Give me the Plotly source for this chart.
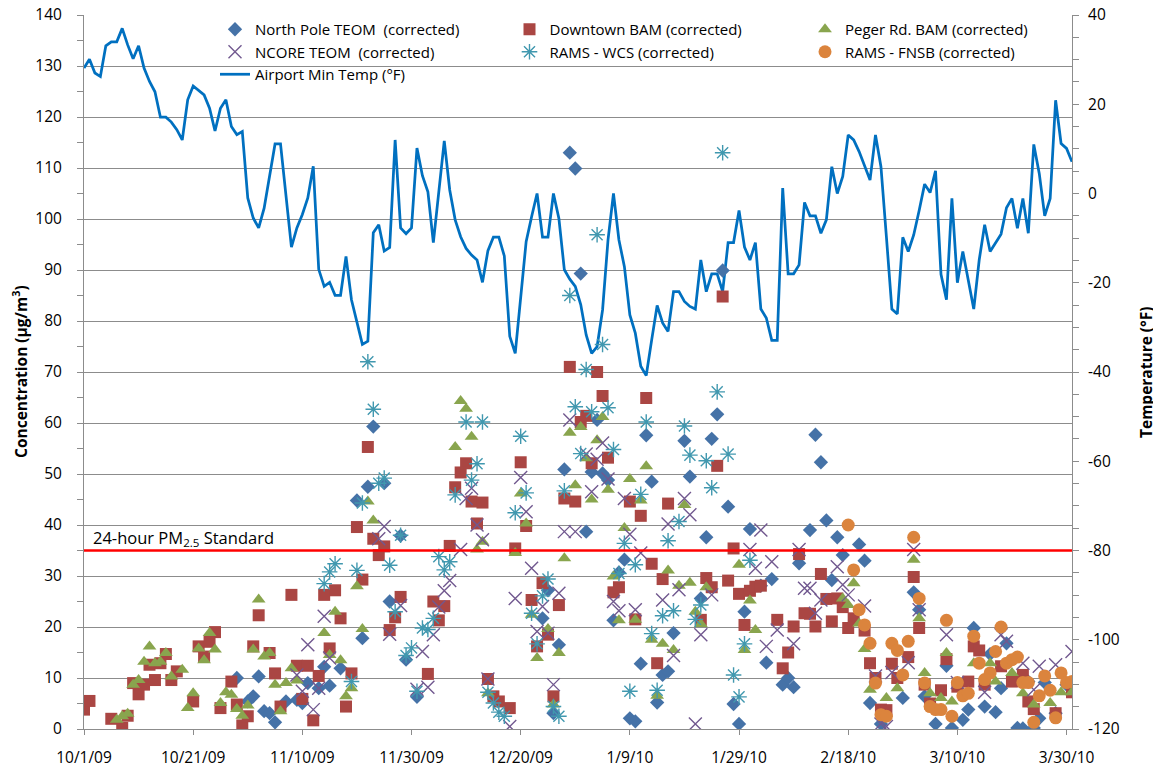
import pandas as pd
import plotly.graph_objects as go

START = "2009-10-01"

# Airport minimum temperature (deg F), one value per day from 10/1/09
TEMP_F = [
    28.1, 30.1, 27.0, 26.2, 33.1, 34.0, 34.0, 37.0, 33.3, 30.2,
    33.1, 28.1, 25.1, 22.8, 17.1, 17.1, 16.0, 14.3, 12.0, 21.0,
    24.1, 23.0, 22.1, 19.1, 14.0, 19.1, 21.0, 15.0, 13.2, 13.9,
    -1.0, -5.5, -7.7, -3.3, 3.5, 11.1, 11.1, -0.3, -12.0, -7.7,
    -4.7, -1.0, 6.1, -17.0, -20.8, -19.9, -22.8, -22.8, -14.1, -23.8,
    -28.6, -33.8, -33.1, -8.8, -7.0, -12.9, -12.1, 12.0, -7.7, -9.0,
    -7.7, 10.2, 4.0, 0.4, -11.0, 0.4, 11.8, 0.8, -5.9, -9.7,
    -12.3, -13.8, -14.9, -19.9, -12.8, -9.8, -9.8, -14.0, -32.0, -35.8,
    -23.1, -10.8, -5.2, 0.0, -9.8, -9.8, 0.0, -5.6, -17.1, -19.2,
    -20.8, -24.9, -31.7, -35.8, -34.3, -26.1, -10.4, 0.0, -10.4, -16.4,
    -27.2, -31.3, -38.7, -40.8, -32.8, -25.1, -29.0, -30.9, -22.0, -22.0,
    -24.2, -25.3, -25.9, -14.9, -22.0, -18.0, -18.0, -22.0, -11.0, -11.0,
    -3.8, -12.0, -14.9, -11.0, -25.9, -27.9, -32.9, -32.9, 1.2, -18.0,
    -18.0, -16.0, -2.0, -5.0, -5.0, -8.9, -5.9, 6.0, 0.0, 3.8,
    13.1, 12.0, 9.4, 6.4, 3.0, 13.1, 6.0, -9.7, -25.9, -27.0,
    -9.8, -13.0, -9.3, -3.8, 2.1, 0.2, 5.1, -18.1, -23.8, -1.1,
    -20.0, -13.0, -19.3, -25.9, -14.9, -7.0, -13.0, -11.1, -9.1, -3.2,
    -1.1, -7.8, -1.1, -8.9, 11.0, 4.5, -5.0, -1.1, 20.9, 11.2,
    10.1, 7.1,
]

# PM2.5 concentrations (ug/m3); *_DAY = days since 10/1/09
NP_DAY = [28, 30, 31, 32, 33, 34, 35, 37, 39, 40, 41, 43, 44, 45, 47, 50, 51, 52, 53, 55,
          56, 58, 59, 61, 84, 85, 86, 87, 88, 89, 90, 91, 92, 93, 94, 95, 96, 97, 98, 99,
          100, 101, 102, 103, 104, 105, 106, 107, 108, 110, 111, 113, 114, 115, 116, 117, 118, 119, 120, 121,
          122, 124, 125, 126, 128, 129, 130, 131, 133, 134, 135, 136, 137, 138, 139, 142, 143, 144, 146, 150,
          152, 153, 154, 156, 158, 159, 161, 162, 163, 165, 166, 167, 168, 169, 171, 172, 173, 174, 175, 176,
          178, 180]
NP_VAL = [10.0, 5.4, 6.4, 10.3, 3.5, 3.1, 1.3, 5.4, 5.7, 5.1, 9.0, 8.0, 12.2, 8.5, 11.9, 44.8, 17.8, 47.5, 59.3, 48.2,
          25.0, 37.9, 13.6, 6.3, 21.7, 27.2, 3.1, 16.5, 50.9, 113.0, 109.9, 89.3, 38.7, 50.4, 60.6, 50.1, 48.8, 21.3, 30.7, 33.2,
          2.1, 1.5, 12.8, 57.6, 48.5, 5.2, 10.6, 11.3, 18.8, 56.5, 49.5, 25.6, 37.6, 56.9, 61.7, 89.9, 43.6, 4.9, 1.0, 23.0,
          39.2, 28.1, 13.0, 29.4, 8.7, 10.0, 8.2, 32.5, 39.0, 57.7, 52.3, 40.9, 29.2, 37.6, 34.1, 36.2, 33.0, 5.1, 1.0, 6.1,
          26.8, 23.4, 6.4, 1.0, 12.4, 0.2, 1.8, 3.8, 19.8, 4.4, 14.7, 3.3, 8.0, 16.8, 0.2, 0.1, 9.3, 0.2, 2.1, 9.1,
          3.1, 8.7]

DT_DAY = [0, 1, 5, 7, 8, 9, 10, 11, 12, 13, 14, 15, 16, 17, 20, 21, 22, 23, 24, 25,
          27, 28, 29, 30, 31, 32, 34, 35, 36, 38, 39, 40, 41, 42, 43, 44, 45, 46, 47, 48,
          49, 50, 51, 52, 53, 54, 55, 56, 57, 58, 63, 64, 65, 66, 67, 68, 69, 70, 71, 72,
          73, 74, 75, 76, 78, 79, 80, 81, 82, 83, 84, 85, 86, 87, 88, 89, 90, 91, 92, 93,
          94, 95, 96, 97, 98, 100, 101, 102, 103, 104, 105, 106, 107, 113, 114, 115, 116, 117, 118, 119,
          120, 121, 122, 123, 124, 127, 128, 129, 130, 131, 132, 133, 134, 135, 136, 137, 138, 139, 140, 141,
          143, 144, 145, 146, 147, 148, 149, 151, 152, 153, 154, 155, 157, 158, 160, 162, 163, 164, 165, 168,
          170, 172, 173, 174, 178, 181]
DT_VAL = [3.8, 5.5, 2.0, 0.2, 2.6, 9.0, 6.8, 8.7, 12.6, 9.6, 12.9, 14.7, 9.6, 11.3, 5.4, 16.2, 14.2, 17.1, 19.0, 4.1,
          9.3, 4.8, 0.7, 2.5, 16.2, 22.3, 14.9, 10.9, 4.4, 26.3, 12.4, 5.9, 12.4, 1.7, 10.4, 26.3, 15.8, 27.2, 21.7, 4.4,
          10.9, 39.6, 29.3, 55.3, 37.3, 34.1, 35.8, 19.4, 21.9, 25.9, 10.8, 25.0, 21.3, 24.1, 35.9, 47.4, 50.3, 52.1, 44.6, 40.3,
          44.4, 9.8, 6.4, 5.4, 4.1, 35.4, 52.3, 39.8, 25.3, 16.2, 28.6, 18.5, 6.4, 24.3, 45.2, 71.0, 44.6, 60.2, 61.4, 52.1,
          70.0, 65.3, 53.2, 26.8, 27.8, 44.6, 21.5, 41.8, 64.9, 32.4, 12.9, 29.4, 44.2, 21.4, 29.6, 27.8, 51.6, 84.8, 29.1, 35.4,
          26.5, 20.4, 27.1, 27.9, 28.1, 21.4, 11.9, 15.0, 20.1, 34.3, 22.7, 22.6, 20.1, 30.4, 25.5, 21.1, 25.6, 23.9, 19.8, 21.7,
          19.3, 12.9, 10.0, 3.8, 3.7, 12.8, 10.0, 14.1, 29.8, 19.8, 8.7, 5.0, 7.6, 13.7, 8.3, 9.3, 16.2, 15.4, 8.7, 12.3,
          9.3, 10.6, 5.4, 3.9, 3.1, 7.2]

PG_DAY = [6, 7, 8, 9, 10, 11, 12, 13, 14, 15, 16, 18, 19, 20, 21, 22, 23, 24, 25, 26,
          27, 28, 29, 30, 31, 32, 33, 34, 35, 36, 37, 38, 39, 44, 45, 46, 47, 48, 49, 50,
          51, 52, 53, 68, 69, 70, 71, 72, 73, 74, 79, 80, 81, 82, 83, 85, 86, 87, 88, 89,
          90, 91, 92, 93, 94, 95, 96, 97, 98, 99, 100, 101, 102, 103, 104, 105, 106, 107, 108, 109,
          110, 111, 112, 113, 114, 120, 121, 122, 123, 139, 140, 141, 142, 143, 144, 147, 149, 152, 153, 154,
          155, 157, 158, 159, 163, 166, 167, 170, 172, 174, 177, 179, 181]
PG_VAL = [1.8, 2.5, 3.0, 8.7, 9.6, 13.2, 16.2, 12.9, 13.2, 14.9, 10.3, 11.6, 4.1, 7.0, 15.8, 13.5, 18.8, 15.6, 5.1, 7.2,
          6.7, 3.9, 2.6, 4.6, 15.6, 25.4, 14.2, 14.9, 8.7, 3.5, 9.0, 11.9, 9.5, 18.8, 14.5, 23.0, 13.5, 6.4, 8.0, 28.0,
          19.6, 44.6, 40.9, 55.3, 64.3, 62.8, 57.3, 35.2, 36.7, 7.0, 34.5, 46.2, 40.3, 22.4, 13.9, 19.6, 4.8, 14.9, 33.5, 58.1,
          47.8, 59.2, 53.1, 45.0, 56.6, 61.2, 46.9, 29.9, 21.3, 39.4, 49.0, 21.4, 44.8, 51.5, 17.5, 6.5, 16.7, 31.1, 15.5, 28.1,
          43.9, 28.7, 23.0, 20.6, 27.8, 32.2, 15.5, 25.2, 19.4, 25.6, 24.3, 28.6, 20.7, 15.7, 7.7, 6.1, 8.0, 33.2, 21.7, 11.0,
          7.0, 6.1, 14.9, 5.4, 12.9, 12.9, 9.3, 11.0, 7.0, 4.8, 5.1, 7.2, 7.2]

NC_DAY = [39, 40, 41, 42, 43, 44, 45, 54, 55, 56, 58, 61, 62, 63, 64, 65, 66, 67, 69, 70,
          71, 72, 73, 74, 78, 79, 80, 81, 82, 83, 84, 85, 86, 87, 88, 89, 90, 92, 93, 94,
          95, 96, 97, 98, 99, 100, 101, 102, 106, 107, 108, 109, 110, 111, 112, 113, 115, 122, 123, 124,
          125, 126, 127, 130, 131, 132, 133, 134, 135, 138, 139, 140, 143, 145, 146, 147, 148, 151, 152, 153,
          158, 160, 165, 168, 169, 172, 174, 175, 178, 181]
NC_VAL = [10.6, 7.4, 16.5, 3.8, 8.0, 22.1, 13.9, 37.3, 39.7, 18.6, 24.2, 7.8, 15.2, 8.2, 18.5, 23.9, 27.1, 29.1, 35.2, 45.2,
          47.2, 40.0, 37.1, 9.8, 0.5, 25.6, 49.3, 42.6, 31.5, 19.1, 24.0, 18.8, 8.7, 26.6, 38.7, 60.6, 38.7, 53.9, 46.5, 52.9,
          56.1, 49.0, 25.0, 23.2, 45.2, 38.2, 23.4, 34.5, 25.3, 40.2, 14.4, 27.3, 45.2, 42.0, 1.0, 18.5, 26.3, 35.2, 31.5, 39.0,
          16.2, 32.8, 19.4, 16.7, 35.2, 27.6, 27.6, 22.7, 25.3, 31.8, 28.3, 26.3, 24.1, 10.4, 1.0, 0.5, 11.1, 13.0, 35.2, 23.4,
          18.5, 9.1, 7.2, 18.5, 17.2, 12.9, 7.7, 12.3, 12.6, 15.2]

WCS_DAY = [44, 45, 46, 49, 50, 51, 52, 53, 54, 55, 56, 57, 58, 59, 60, 61, 62, 63, 64, 65,
           66, 67, 68, 70, 71, 72, 73, 74, 75, 76, 77, 79, 80, 81, 82, 83, 84, 85, 86, 87,
           88, 89, 90, 91, 92, 93, 94, 95, 96, 97, 98, 99, 100, 101, 102, 103, 104, 105, 106, 107,
           108, 109, 110, 111, 112, 113, 114, 115, 116, 117, 118, 119, 120, 121, 122]
WCS_VAL = [28.5, 30.8, 32.4, 9.3, 31.1, 44.3, 72.0, 62.7, 48.2, 49.2, 32.1, 23.0, 38.0, 14.4, 15.9, 7.4, 19.8, 19.5, 21.7, 33.8,
           31.2, 32.8, 45.9, 60.2, 48.8, 52.0, 60.2, 7.2, 5.1, 3.3, 2.5, 42.4, 57.4, 46.3, 22.7, 16.7, 26.1, 29.4, 4.4, 2.5,
           46.7, 85.0, 63.2, 54.0, 70.5, 62.2, 96.9, 75.4, 63.0, 54.8, 30.5, 36.4, 7.4, 32.2, 46.0, 60.2, 18.7, 7.6, 22.2, 36.9,
           23.2, 40.7, 59.4, 53.7, 21.5, 24.3, 52.6, 47.3, 66.1, 113.0, 53.9, 10.6, 6.3, 16.7, 33.1]

FN_DAY = [140, 141, 142, 143, 144, 145, 146, 147, 148, 149, 150, 151, 152, 153, 154, 155, 156, 157, 158, 159,
          160, 161, 162, 163, 164, 165, 166, 167, 168, 169, 170, 171, 172, 173, 174, 175, 176, 177, 178, 179,
          180, 181]
FN_VAL = [40.0, 31.2, 23.4, 20.4, 16.8, 9.0, 2.8, 2.5, 16.8, 15.4, 10.6, 17.2, 37.6, 25.6, 9.0, 4.4, 3.8, 3.8, 21.3, 2.5,
          9.1, 6.5, 7.0, 18.2, 12.9, 9.7, 11.0, 15.2, 20.0, 12.9, 13.6, 14.1, 9.1, 9.1, 1.3, 6.5, 10.4, 7.6, 2.2, 11.0,
          9.1, 9.3]

STANDARD = 35
X_TICK_LABELS = ["10/1/09", "10/21/09", "11/10/09", "11/30/09", "12/20/09",
                 "1/9/10", "1/29/10", "2/18/10", "3/10/10", "3/30/10"]
TEMP_TICKS = [40, 20, 0, -20, -40, -60, -80, -100, -120]
CONC_TICKS = list(range(0, 141, 10))


def to_dates(days):
    return pd.Timestamp(START) + pd.to_timedelta(days, unit="D")


FONT = "Open Sans"
GRID = "#8c8c8c"
# the page body adds an 8px margin (top/left), so the figure is sized to end at the window edge
FIG_W, FIG_H = 1153, 759

fig = go.Figure()

# temperature line (right axis = 'y')
fig.add_trace(go.Scatter(
    x=to_dates(list(range(len(TEMP_F)))), y=TEMP_F, yaxis="y", mode="lines",
    name="Airport Min Temp (°F)", line=dict(color="#0070C0", width=2.75),
    legend="legend", legendrank=3, hoverinfo="skip"))

marker_series = [
    ("North Pole TEOM\u00a0 (corrected)", NP_DAY, NP_VAL, "diamond", "#4572A7", 11, "legend", 1),
    ("Downtown BAM (corrected)", DT_DAY, DT_VAL, "square", "#AA4643", 12, "legend2", 1),
    ("Peger Rd. BAM (corrected)", PG_DAY, PG_VAL, "triangle-up", "#89A54E", 12, "legend3", 1),
    ("NCORE TEOM\u00a0 (corrected)", NC_DAY, NC_VAL, "x-thin-open", "#71588F", 13, "legend", 2),
    ("RAMS - WCS (corrected)", WCS_DAY, WCS_VAL, "asterisk-open", "#4198AF", 13, "legend2", 2),
    ("RAMS - FNSB (corrected)", FN_DAY, FN_VAL, "circle", "#DB843D", 13, "legend3", 2),
]
for name, days, vals, sym, col, size, leg, rank in marker_series:
    open_sym = sym.endswith("open")
    fig.add_trace(go.Scatter(
        x=to_dates(days), y=vals, yaxis="y2", mode="markers", name=name,
        marker=dict(symbol=sym, color=col, size=size,
                    line=dict(color=col, width=1.4 if open_sym else 0)),
        legend=leg, legendrank=rank))

fig.add_shape(type="line", xref="paper", x0=0, x1=1, yref="y2", y0=STANDARD, y1=STANDARD,
              line=dict(color="#FF0000", width=2.5), layer="above")
fig.add_annotation(xref="paper", x=0.0, xanchor="left", yref="y2", y=STANDARD,
                   yanchor="middle", yshift=13, xshift=7, showarrow=False,
                   text="24-hour PM<sub>2.5</sub> Standard",
                   font=dict(family=FONT, size=16.5, color="#000000"))

# axis titles
fig.add_annotation(xref="paper", yref="paper", x=(12 - 76) / 988, y=0.5, textangle=-90,
                   xanchor="center", yanchor="middle", showarrow=False,
                   text="<b>Concentration (µg/m<sup>3</sup>)</b>",
                   font=dict(family=FONT, size=15.5, color="#000000"))
fig.add_annotation(xref="paper", yref="paper", x=(1138 - 76) / 988, y=0.5, textangle=-90,
                   xanchor="center", yanchor="middle", showarrow=False,
                   text="<b>Temperature (°F)</b>",
                   font=dict(family=FONT, size=15.5, color="#000000"))

tick_dates = to_dates([20 * i for i in range(len(X_TICK_LABELS))])

leg_common = dict(font=dict(family=FONT, size=15, color="#000000"), bgcolor="rgba(0,0,0,0)",
                  orientation="v", yanchor="top", xanchor="left",
                  xref="container", yref="container", y=1 - 5 / FIG_H,
                  itemwidth=30, tracegroupgap=0)

fig.update_layout(
    width=FIG_W, height=FIG_H,
    margin=dict(l=76, r=89, t=7, b=38, autoexpand=False),
    paper_bgcolor="white", plot_bgcolor="white",
    font=dict(family=FONT, size=15, color="#000000"),
    xaxis=dict(type="date", range=[to_dates(0), to_dates(181)], automargin=False,
               tickvals=tick_dates, ticktext=X_TICK_LABELS, ticklabeloverflow="allow",
               showgrid=False, zeroline=False, showline=True, linecolor=GRID, linewidth=1,
               ticks="outside", ticklen=5, tickcolor=GRID, ticklabelstandoff=9,
               tickfont=dict(family=FONT, size=15.5, color="#000000")),
    yaxis=dict(side="right", range=[-120, 40], tickvals=TEMP_TICKS, automargin=False,
               ticktext=[str(v) for v in TEMP_TICKS], ticklabeloverflow="allow",
               showgrid=False, zeroline=False, showline=True, linecolor=GRID, linewidth=1,
               ticks="outside", ticklen=6, tickcolor=GRID, ticklabelstandoff=6,
               minor=dict(dtick=5, ticks="outside", ticklen=6, tickcolor=GRID, showgrid=False),
               tickfont=dict(family=FONT, size=15.5, color="#000000")),
    yaxis2=dict(side="left", overlaying="y", range=[0, 140], tickvals=CONC_TICKS, automargin=False,
                ticklabeloverflow="allow",
                showgrid=True, gridcolor=GRID, gridwidth=1, zeroline=False,
                showline=True, linecolor=GRID, linewidth=1,
                ticks="outside", ticklen=6, tickcolor=GRID, ticklabelstandoff=12,
                minor=dict(dtick=5, ticks="outside", ticklen=6, tickcolor=GRID, showgrid=False),
                tickfont=dict(family=FONT, size=15.5, color="#000000")),
    legend=dict(x=207 / FIG_W, **leg_common),
    legend2=dict(x=501.5 / FIG_W, **leg_common),
    legend3=dict(x=797 / FIG_W, **leg_common),
    showlegend=True,
)

fig.write_html("out.html")
